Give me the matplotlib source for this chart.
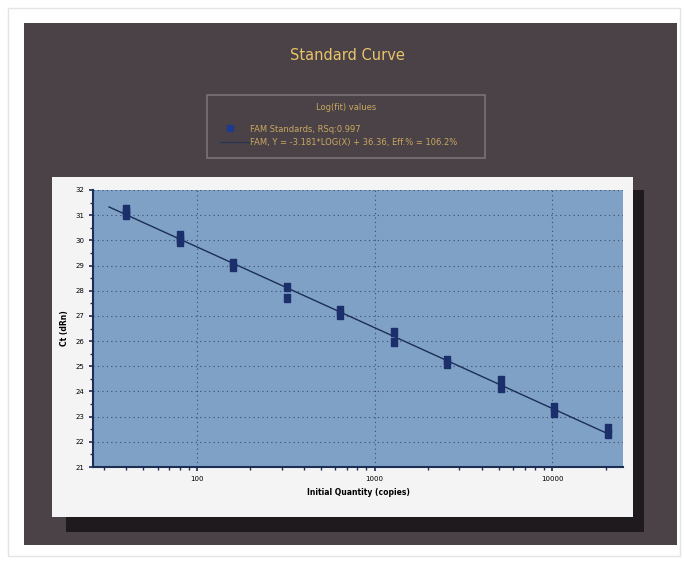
import numpy as np
import matplotlib
matplotlib.use('Agg')
import matplotlib.pyplot as plt
import matplotlib.patches as mpatches
from matplotlib.ticker import LogLocator, NullFormatter, MultipleLocator

#data================================
quantity = [40, 40, 40, 80, 80, 80, 160, 160, 320, 320, 640, 640,
            1280, 1280, 2560, 2560, 5120, 5120, 10240, 10240, 20480, 20480]
ct = [31.25, 31.12, 31.02, 30.2, 30.05, 29.95, 29.1, 28.95, 28.15, 27.72,
      27.25, 27.05, 26.35, 25.98, 25.25, 25.1, 24.45, 24.15, 23.4, 23.15,
      22.55, 22.3]
x_ticks = [100, 1000, 10000]
x_tick_labels = ['100', '1000', '10000']
y_ticks = list(range(21, 33))
title = 'Standard Curve'
legend_title = 'Log(fit) values'
legend_rows = ['FAM Standards, RSq:0.997',
               'FAM, Y = -3.181*LOG(X) + 36.36, Eff.% = 106.2%']
#====================================

W, H = 684, 562
fig = plt.figure(figsize=(W / 100, H / 100), dpi=100)
fig.patch.set_facecolor('white')

def box(x0, y0, x1, y1, **kw):
    # pixel box, top-left origin
    r = mpatches.Rectangle((x0 / W, 1 - y1 / H), (x1 - x0) / W, (y1 - y0) / H,
                           transform=fig.transFigure, zorder=-5, **kw)
    fig.patches.append(r)

box(8, 8, 680, 556, facecolor='none', edgecolor='#e4e4e4', lw=1)
box(24, 23, 677, 545, facecolor='#4b4248', edgecolor='none')
box(66, 190, 644, 532, facecolor='#1e1a1e', edgecolor='none')
box(52, 177, 633, 517, facecolor='#f4f4f4', edgecolor='none')

# title and legend box
fig.text(347 / W, 1 - 55 / H, title, color='#e8c46a', fontsize=10.5,
         ha='center', va='center')
box(207, 95, 485, 158, facecolor='none', edgecolor='#7a7278', lw=1.2)
fig.text(346 / W, 1 - 108 / H, legend_title, color='#c9a85e', fontsize=6,
         ha='center', va='center')
fig.text(250 / W, 1 - 129 / H, legend_rows[0], color='#c9a85e', fontsize=6,
         ha='left', va='center')
fig.text(250 / W, 1 - 142 / H, legend_rows[1], color='#c9a85e', fontsize=6,
         ha='left', va='center')
fig.lines.append(plt.Line2D([230 / W], [1 - 128 / H], marker='s', ms=4,
                            color='#1f3a8a', transform=fig.transFigure))
fig.lines.append(plt.Line2D([220 / W, 250 / W], [1 - 142 / H, 1 - 142 / H],
                            lw=1, color='#2a3550', transform=fig.transFigure))

# plot area
ax = fig.add_axes([93 / W, 1 - 467 / H, (623 - 93) / W, (467 - 190) / H])
ax.set_zorder(5)
ax.set_facecolor('#7fa1c6')
ax.set_xscale('log')
ax.set_xlim(26, 25000)
ax.set_ylim(21, 32)

slope, intercept = np.polyfit(np.log10(quantity), ct, 1)
xs = np.logspace(np.log10(32), np.log10(max(quantity)), 50)
ax.plot(xs, slope * np.log10(xs) + intercept, color='#1c2e55', lw=1)
rect = [(-0.8, -1), (0.8, -1), (0.8, 1), (-0.8, 1), (-0.8, -1)]
ax.plot(quantity, ct, ls='none', marker=rect, color='#1b2f6b', ms=6,
        mec='#1b2f6b')

ax.set_xticks(x_ticks)
ax.set_xticklabels(x_tick_labels)
ax.xaxis.set_minor_locator(LogLocator(base=10, subs=np.arange(2, 10)))
ax.xaxis.set_minor_formatter(NullFormatter())
ax.set_yticks(y_ticks)
ax.yaxis.set_minor_locator(MultipleLocator(0.5))
ax.tick_params(axis='both', which='major', labelsize=5, length=3, width=1.2,
               color='#1c2e55')
ax.tick_params(axis='both', which='minor', length=2, width=1, color='#1c2e55')
ax.grid(True, which='major', color='#3b4c6c', ls=(0, (1, 3)), lw=0.8)
for s in ['top', 'right']:
    ax.spines[s].set_visible(False)
for s in ['left', 'bottom']:
    ax.spines[s].set_color('#1c2e55')
    ax.spines[s].set_linewidth(1.5)

ax.set_xlabel('Initial Quantity (copies)', fontsize=5.5, fontweight='bold')
ax.set_ylabel('Ct (dRn)', fontsize=5.5, fontweight='bold', labelpad=4)

fig.savefig('out.png', dpi=100)
